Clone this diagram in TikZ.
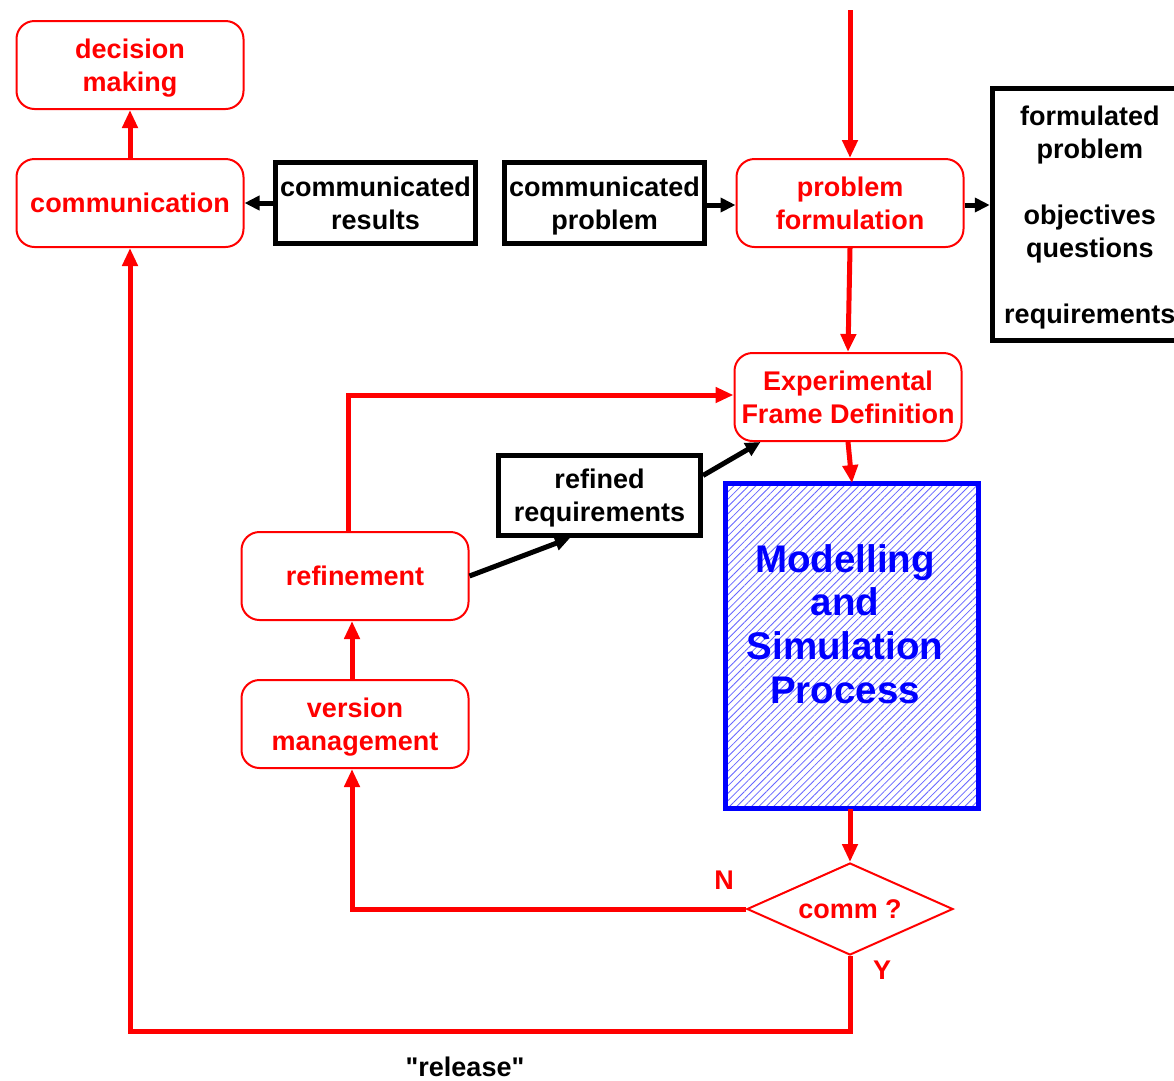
\documentclass[tikz,border=0pt]{standalone}
\usepackage{fontspec}
\setmainfont{Liberation Sans}
\newfontfamily\qfont{Liberation Sans}[Ligatures=TeXOff]
\usetikzlibrary{arrows.meta,shapes.geometric,patterns.meta}
\begin{document}
\begin{tikzpicture}[x=1pt,y=-1pt,
 font=\bfseries\fontsize{27}{33}\selectfont,
 redbox/.style={draw=red, line width=2pt, rounded corners=18pt, text=red, align=center, minimum width=227pt, minimum height=88pt, inner sep=0pt, text depth=0pt},
 blackbox/.style={draw=black, line width=5pt, align=center, minimum width=200pt, minimum height=81pt, inner sep=0pt, text depth=0pt},
 redline/.style={draw=red, line width=5pt, -{Triangle[length=18pt,width=15pt]}},
 blackline/.style={draw=black, line width=5pt, -{Triangle[length=15pt,width=14pt]}},
 lbl/.style={text=red, inner sep=0pt}
]
\useasboundingbox[fill=white] (0,0) rectangle (1174,1080);
\node[redbox] (dm) at (130,65) {decision\\making};
\node[redbox] (comm) at (130,203) {communication};
\node[blackbox] (cr) at (375.5,203) {communicated\\results};
\node[blackbox] (cp) at (604.5,203) {communicated\\problem};
\node[redbox] (pf) at (850,203) {problem\\formulation};
\node[blackbox, minimum width=195pt, minimum height=252pt] (fp) at (1089.75,214.5) {formulated\\problem\\[33pt]objectives\\questions\\[33pt]requirements};
\node[redbox] (efd) at (848,397) {Experimental\\Frame Definition};
\node[blackbox, minimum width=202pt, minimum height=80pt] (rr) at (599.5,495.5) {refined\\requirements};
\node[draw=blue, line width=5pt, pattern={Lines[angle=45,distance=5.2pt,line width=0.8pt]}, pattern color=blue!60, minimum width=253pt, minimum height=325pt, inner sep=0pt] (msp) at (852,646) {};
\node[text=blue, font=\bfseries\fontsize{38.5}{43.7}\selectfont, align=center, inner sep=0pt] (msptext) at (845,624) {Modelling\\and\\Simulation\\Process};
\node[redbox] (ref) at (355,576) {refinement};
\node[redbox] (vm) at (355,724) {version\\management};
\node[diamond, draw=red, line width=2pt, text=red, minimum width=206pt, minimum height=92pt, inner sep=0pt, aspect=2.24] (dia) at (850,909) {comm ?};
\node[lbl] (nlbl) at (724,880) {N};
\node[lbl] (ylbl) at (882,970) {Y};
\node[inner sep=0pt, font=\qfont\bfseries\fontsize{27}{33}\selectfont] (rel) at (465,1067) {"release"};
\coordinate (top) at (850,10);
\coordinate (relc) at (850,1031);
\draw[redline] (top) -- (pf.north);
\draw[redline] (pf.south) -- (efd.north);
\draw[redline] (efd.south) -- (msp.north);
\draw[redline] ([xshift=-2pt]msp.south) -- (dia.north);
\draw[redline] (dia.west) -| ([xshift=-3pt]vm.south);
\draw[redline] (dia.south) -- (relc) -| (comm.south);
\draw[redline] ([xshift=-3pt]vm.north) -- ([xshift=-3pt]ref.south);
\draw[redline] ([xshift=-7pt]ref.north) |- ([yshift=2pt]efd.west);
\draw[redline] (comm.north) -- (dm.south);
\draw[blackline] (ref.east) -- ([xshift=-29.5pt]rr.south);
\draw[blackline] ([yshift=20pt]rr.east) -- ([xshift=27pt]efd.south west);
\draw[blackline] (cr.west) -- (comm.east);
\draw[blackline] ([yshift=-2pt]cp.east) -- ([yshift=-2pt]pf.west);
\draw[blackline] ([yshift=-2pt]pf.east) -- ([yshift=-2pt]pf.east -| fp.west);
\end{tikzpicture}
\end{document}
